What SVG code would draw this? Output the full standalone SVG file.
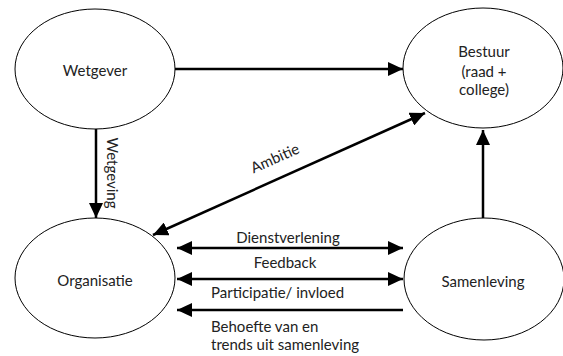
<svg xmlns="http://www.w3.org/2000/svg" width="563" height="356" viewBox="0 0 563 356">
<defs>
<style>
.node{fill:#fff;stroke:#000;stroke-width:1}
.t{font-family:Lato,"Liberation Sans",Arial,sans-serif;font-size:15px;fill:#222;text-anchor:middle}
.l{font-family:Lato,"Liberation Sans",Arial,sans-serif;font-size:15px;fill:#222}
.c{stroke:#000;stroke-width:2.5;fill:none}
</style>
<marker id="ah" markerUnits="userSpaceOnUse" markerWidth="16" markerHeight="14" refX="15" refY="7" orient="auto-start-reverse">
<path d="M0,0 L15,7 L0,14 z" fill="#000"/>
</marker>
</defs>
<rect width="563" height="356" fill="#fff"/>
<g id="wetgever">
<ellipse class="node" cx="95" cy="69" rx="80" ry="60"/>
<text class="t" x="95" y="76">Wetgever</text>
</g>
<g id="bestuur">
<ellipse class="node" cx="483" cy="68" rx="80" ry="60"/>
<text class="t" x="484" y="57">Bestuur</text>
<text class="t" x="484" y="77">(raad +</text>
<text class="t" x="484" y="95">college)</text>
</g>
<g id="organisatie">
<ellipse class="node" cx="95" cy="278" rx="80" ry="60"/>
<text class="t" x="95" y="286">Organisatie</text>
</g>
<g id="samenleving">
<ellipse class="node" cx="484" cy="279" rx="80" ry="61"/>
<text class="t" x="483" y="287">Samenleving</text>
</g>
<g id="connectors">
<line class="c" x1="175" y1="69" x2="403" y2="69" marker-end="url(#ah)"/>
<line class="c" x1="96" y1="129" x2="96" y2="218" marker-end="url(#ah)"/>
<line class="c" x1="153" y1="235" x2="425" y2="113" marker-start="url(#ah)" marker-end="url(#ah)"/>
<line class="c" x1="483" y1="218" x2="483" y2="130" marker-end="url(#ah)"/>
<line class="c" x1="177" y1="248" x2="403" y2="248" marker-start="url(#ah)" marker-end="url(#ah)"/>
<line class="c" x1="177" y1="279" x2="403" y2="279" marker-start="url(#ah)" marker-end="url(#ah)"/>
<line class="c" x1="403" y1="310" x2="177" y2="310" marker-end="url(#ah)"/>
<text class="t" transform="translate(107,173) rotate(90)">Wetgeving</text>
<text class="t" transform="translate(277,163) rotate(-24)">Ambitie</text>
<text class="t" x="288" y="243">Dienstverlening</text>
<text class="t" x="285" y="268">Feedback</text>
<text class="l" x="211" y="298">Participatie/ invloed</text>
<text class="l" x="211" y="332">Behoefte van en</text>
<text class="l" x="211" y="350">trends uit samenleving</text>
</g>
</svg>
